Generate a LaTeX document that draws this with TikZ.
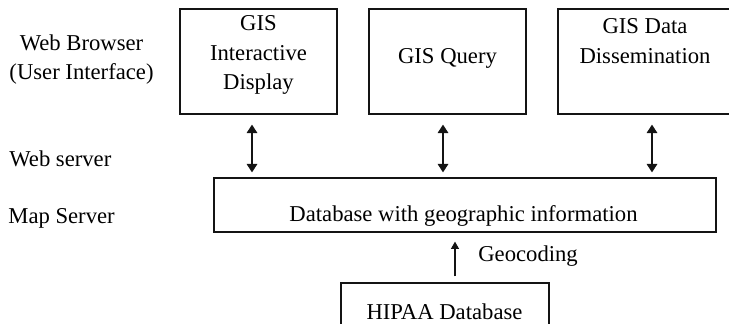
\documentclass[tikz,border=0pt]{standalone}
\usepackage{fontspec}
\setmainfont{Liberation Serif}
\usetikzlibrary{arrows.meta,positioning}
\definecolor{figline}{RGB}{20,20,20}
\tikzset{
  blk/.style ={draw=figline, line width=0.7pt, inner sep=0pt},
  lab/.style ={font=\fontsize{12.9}{17}\selectfont, inner sep=0pt, align=center},
  dbl/.style ={draw=figline, line width=0.75pt, {Triangle[length=4.8pt,width=6pt]}-{Triangle[length=4.8pt,width=6pt]}},
  ptr/.style ={draw=figline, line width=0.6pt, -{Triangle[length=4.2pt,width=4.6pt]}},
}

\begin{document}
\begin{tikzpicture}
  \useasboundingbox (0,0) rectangle (14.58,6.46);
  % layer names
  \node[lab] (browser) at (1.63,5.27) {Web Browser\\(User Interface)};
  \node[lab,anchor=west] (websrv) at (0.18,3.28) {Web server};
  \node[lab,anchor=west] (mapsrv) at (0.16,2.10) {Map Server};
  % browser boxes
  \node[blk,minimum width=3.14cm,minimum height=2.10cm] (disp) at (5.17,5.23) {};
  \node[blk,minimum width=3.14cm,minimum height=2.10cm] (query) at (8.95,5.23) {};
  \node[blk,minimum width=3.48cm,minimum height=2.10cm] (dissem) at (12.90,5.23) {};
  \node[lab] (displab) at (5.17,5.36) {GIS\\Interactive\\Display};
  \node[lab] (querylab) at (8.95,5.30) {GIS Query};
  \node[lab] (dissemlab) at (12.90,5.64) {GIS Data\\Dissemination};
  % map server and source
  \node[blk,minimum width=10.04cm,minimum height=1.08cm] (db) at (9.30,2.36) {};
  \node[lab] (dblab) at (9.27,2.14) {Database with geographic information};
  \node[blk,minimum width=4.16cm,minimum height=1.40cm] (hipaa) at (8.90,0.10) {};
  \node[lab] (hipaalab) at (8.89,0.22) {HIPAA Database};
  % connectors
  \coordinate (a1) at ([xshift=-0.13cm]disp.south);
  \coordinate (a2) at ([xshift=-0.09cm]query.south);
  \coordinate (a3) at ([xshift=0.14cm]dissem.south);
  \draw[dbl,shorten <=0.2cm,shorten >=0.1cm] (a1) -- (a1 |- db.north);
  \draw[dbl,shorten <=0.2cm,shorten >=0.1cm] (a2) -- (a2 |- db.north);
  \draw[dbl,shorten <=0.2cm,shorten >=0.1cm] (a3) -- (a3 |- db.north);
  \coordinate (g0) at ([xshift=0.20cm]hipaa.north);
  \draw[ptr,shorten <=0.12cm,shorten >=0.18cm] (g0) -- (g0 |- db.south);
  \node[lab,anchor=west] (geo) at (9.56,1.34) {Geocoding};
\end{tikzpicture}
\end{document}
